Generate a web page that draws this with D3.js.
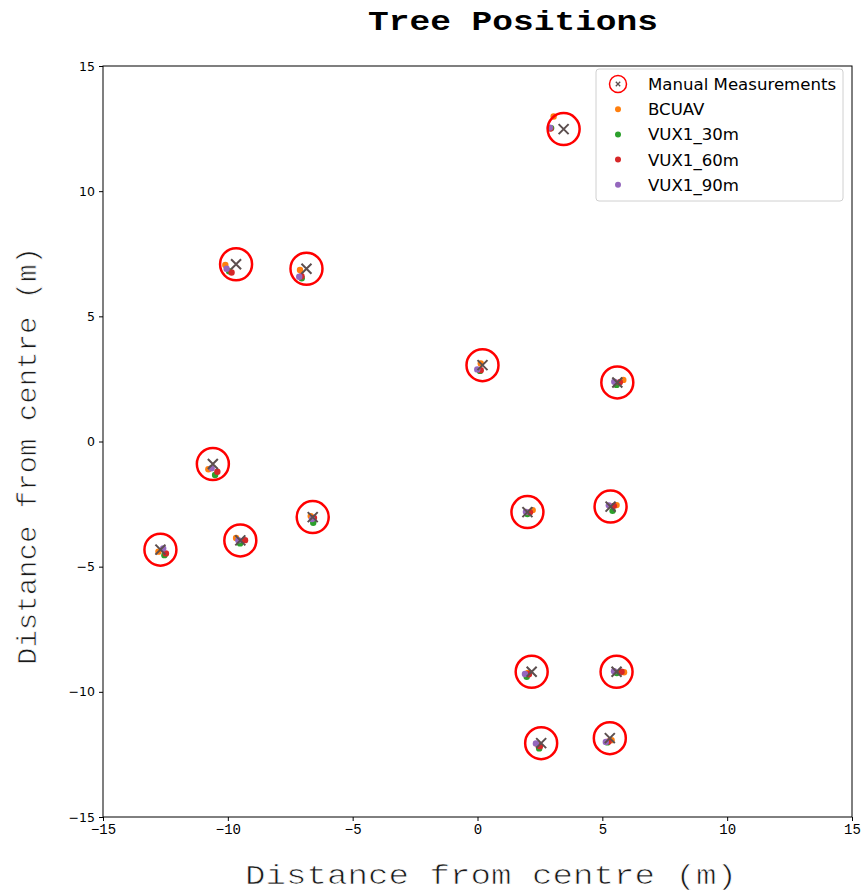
<!DOCTYPE html>
<html>
<head>
<meta charset="utf-8">
<script src="https://cdn.jsdelivr.net/npm/d3@7"></script>
<style>
  html, body { margin: 0; padding: 0; background: #fff; }
  svg { display: block; }
</style>
</head>
<body>
<svg id="chart" width="864" height="893"></svg>
<script>
// Manually measured stem positions (m from plot centre)
const manualX = [3.45, -9.67, -6.85, 0.2, 5.6, -10.6, -12.7, -9.5, -6.6, 2.0, 5.33, 2.17, 5.57, 2.55, 5.3];
const manualY = [12.48, 7.08, 6.9, 3.05, 2.36, -0.9, -4.32, -3.95, -3.02, -2.82, -2.6, -9.2, -9.2, -12.05, -11.85];

// Detected stem positions per dataset
const bcuavX = [3.05, -10.1, -7.11, 0.13, 5.84, -10.78, -12.78, -9.67, -6.68, 2.21, 5.57, 2.02, 5.87, 2.42, 5.37];
const bcuavY = [12.98, 7.05, 6.85, 3.12, 2.46, -1.11, -4.4, -3.85, -2.98, -2.74, -2.54, -9.25, -9.22, -12.1, -11.93];

const vux30X = [2.95, -9.95, -7.04, 0.1, 5.57, -10.51, -12.54, -9.51, -6.58, 2.0, 5.41, 1.97, 5.58, 2.47, 5.2];
const vux30Y = [12.52, 6.8, 6.52, 2.82, 2.26, -1.34, -4.54, -4.07, -3.25, -2.9, -2.77, -9.4, -9.25, -12.26, -12.02];

const vux60X = [2.92, -9.85, -7.05, 0.13, 5.7, -10.42, -12.48, -9.31, -6.55, 2.1, 5.46, 2.06, 5.77, 2.5, 5.25];
const vux60Y = [12.5, 6.75, 6.6, 2.85, 2.37, -1.21, -4.47, -3.94, -3.05, -2.83, -2.57, -9.3, -9.2, -12.17, -11.98];

const vux90X = [2.9, -10.05, -7.14, -0.01, 5.48, -10.65, -12.59, -9.58, -6.63, 1.94, 5.26, 1.9, 5.47, 2.34, 5.14];
const vux90Y = [12.54, 6.9, 6.58, 2.88, 2.39, -1.07, -4.27, -3.94, -3.1, -2.81, -2.55, -9.29, -9.18, -12.06, -12.0];

const seriesNames = ["BCUAV", "VUX1_30m", "VUX1_60m", "VUX1_90m"];
const seriesColors = ["#ff7f0e", "#2ca02c", "#d62728", "#9467bd"];
const tickValues = [-15, -10, -5, 0, 5, 10, 15];

const series = [
  { name: seriesNames[0], color: seriesColors[0], xs: bcuavX, ys: bcuavY },
  { name: seriesNames[1], color: seriesColors[1], xs: vux30X, ys: vux30Y },
  { name: seriesNames[2], color: seriesColors[2], xs: vux60X, ys: vux60Y },
  { name: seriesNames[3], color: seriesColors[3], xs: vux90X, ys: vux90Y }
];
const manual = manualX.map((x, i) => ({ x, y: manualY[i] }));

const svg = d3.select("#chart");
const plot = { left: 103, right: 852, top: 66, bottom: 817 };

const x = d3.scaleLinear().domain([-15, 15]).range([plot.left, plot.right]);
const y = d3.scaleLinear().domain([-15, 15]).range([plot.bottom, plot.top]);

const monoFont = "'Liberation Mono', 'DejaVu Sans Mono', monospace";

// Title
svg.append("text")
  .attr("x", 513).attr("y", 30)
  .attr("text-anchor", "middle")
  .attr("font-family", monoFont)
  .attr("font-weight", "bold")
  .attr("font-size", 28)
  .attr("textLength", 290).attr("lengthAdjust", "spacingAndGlyphs")
  .text("Tree Positions");

// Axes
const xAxis = svg.append("g")
  .attr("transform", `translate(0,${plot.bottom})`)
  .call(d3.axisBottom(x).tickValues(tickValues).tickSize(4).tickPadding(3)
    .tickFormat(d => d < 0 ? "\u2212" + Math.abs(d) : d));
xAxis.select(".domain").remove();
xAxis.selectAll("text")
  .attr("font-family", monoFont)
  .attr("font-size", 14).attr("fill", "#000");
xAxis.selectAll("line").attr("stroke", "#000");

const yAxis = svg.append("g")
  .attr("transform", `translate(${plot.left},0)`)
  .call(d3.axisLeft(y).tickValues(tickValues).tickSize(4).tickPadding(4)
    .tickFormat(d => d < 0 ? "\u2212" + Math.abs(d) : d));
yAxis.select(".domain").remove();
yAxis.selectAll("text")
  .attr("font-family", "'DejaVu Sans', sans-serif")
  .attr("font-size", 12.5).attr("fill", "#000");
yAxis.selectAll("line").attr("stroke", "#000");

// Frame
svg.append("rect")
  .attr("x", plot.left).attr("y", plot.top)
  .attr("width", plot.right - plot.left).attr("height", plot.bottom - plot.top)
  .attr("fill", "none").attr("stroke", "#000").attr("stroke-width", 1);

// Axis titles (thin monospace: a white outline drawn over the fill slims the strokes)
svg.append("text")
  .attr("x", 491).attr("y", 884)
  .attr("text-anchor", "middle")
  .attr("font-family", monoFont)
  .attr("font-size", 28)
  .attr("fill", "#1a1a1a")
  .attr("stroke", "#fff").attr("stroke-width", 0.7)
  .attr("textLength", 492).attr("lengthAdjust", "spacingAndGlyphs")
  .text("Distance from centre (m)");

svg.append("text")
  .attr("transform", "translate(36,456) rotate(-90)")
  .attr("text-anchor", "middle")
  .attr("font-family", monoFont)
  .attr("font-size", 27)
  .attr("fill", "#1a1a1a")
  .attr("stroke", "#fff").attr("stroke-width", 0.7)
  .attr("textLength", 418).attr("lengthAdjust", "spacingAndGlyphs")
  .text("Distance from centre (m)");

// Detected positions
const dots = svg.append("g");
series.forEach(s => {
  dots.selectAll(null)
    .data(s.xs.map((v, i) => ({ x: v, y: s.ys[i] })))
    .join("circle")
    .attr("cx", d => x(d.x)).attr("cy", d => y(d.y))
    .attr("r", 3.2)
    .attr("fill", s.color);
});

// Manual measurements: red ring with a cross
const markGroup = svg.append("g");
const crossPath = r => `M${-r},${-r}L${r},${r}M${-r},${r}L${r},${-r}`;
const marks = markGroup.selectAll("g").data(manual).join("g")
  .attr("transform", d => `translate(${x(d.x)},${y(d.y)})`);
marks.append("circle")
  .attr("r", 16).attr("fill", "none")
  .attr("stroke", "#ff0000").attr("stroke-width", 2.5);
marks.append("path")
  .attr("d", crossPath(5))
  .attr("stroke", "#5c4f4f").attr("stroke-width", 2).attr("fill", "none");

// Legend
const legend = svg.append("g").attr("transform", "translate(596,69)");
legend.append("rect")
  .attr("width", 247).attr("height", 132).attr("rx", 3)
  .attr("fill", "#fff").attr("fill-opacity", 0.8)
  .attr("stroke", "#d0d0d0").attr("stroke-width", 1);

const rowY = i => 15 + i * 25.2;
const legendFont = "'DejaVu Sans', sans-serif";

const mRow = legend.append("g").attr("transform", `translate(22,${rowY(0)})`);
mRow.append("circle").attr("r", 8.5).attr("fill", "none")
  .attr("stroke", "#ff0000").attr("stroke-width", 1.5);
mRow.append("path").attr("d", crossPath(2.2))
  .attr("stroke", "#5c4f4f").attr("stroke-width", 1.3);
legend.append("text")
  .attr("x", 52).attr("y", rowY(0)).attr("dy", "0.36em")
  .attr("font-family", legendFont).attr("font-size", 16.6)
  .text("Manual Measurements");

series.forEach((s, i) => {
  legend.append("circle")
    .attr("cx", 22).attr("cy", rowY(i + 1)).attr("r", 3)
    .attr("fill", s.color);
  legend.append("text")
    .attr("x", 52).attr("y", rowY(i + 1)).attr("dy", "0.36em")
    .attr("font-family", legendFont).attr("font-size", 16.6)
    .text(s.name);
});
</script>
</body>
</html>
